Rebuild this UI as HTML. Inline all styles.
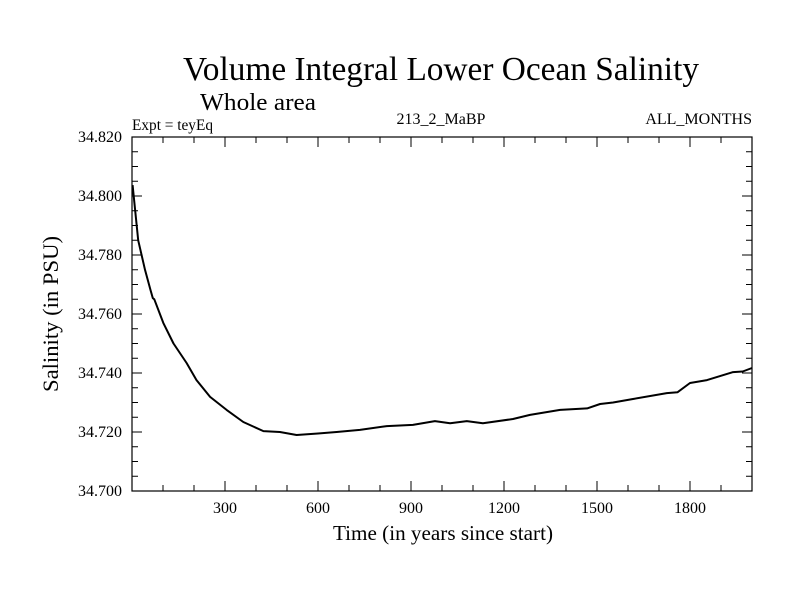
<!DOCTYPE html>
<html><head><meta charset="utf-8"><style>
body{margin:0;background:#fff}
svg{display:block}
text{font-family:"Liberation Serif",serif;fill:#000}
</style></head><body>
<svg id="chart" width="800" height="600">
<text x="441" y="80" font-size="33.5" text-anchor="middle" textLength="516" lengthAdjust="spacingAndGlyphs">Volume Integral Lower Ocean Salinity</text>
<text x="200" y="110" font-size="24" textLength="116" lengthAdjust="spacingAndGlyphs">Whole area</text>
<text x="132" y="130" font-size="16" textLength="81" lengthAdjust="spacingAndGlyphs">Expt = teyEq</text>
<text x="441" y="124" font-size="16" text-anchor="middle">213_2_MaBP</text>
<text x="752" y="124" font-size="16" text-anchor="end">ALL_MONTHS</text>
<text x="443" y="540" font-size="21" text-anchor="middle" textLength="220" lengthAdjust="spacingAndGlyphs">Time (in years since start)</text>
<text transform="translate(58,314) rotate(-90)" font-size="22" text-anchor="middle" textLength="156" lengthAdjust="spacingAndGlyphs">Salinity (in PSU)</text>
<g id="axes"></g>
<path id="line" fill="none" stroke="#000" stroke-width="2" stroke-linejoin="round"/>
<rect x="132" y="137" width="620" height="354" fill="none" stroke="#000" stroke-width="1.2"/>
</svg>
<script>
const years=[2,20,42,60,67,72,101,134,176,208,252,305,359,424,477,531,600,660,735,822,906,977,1026,1080,1132,1229,1284,1381,1468,1510,1552,1616,1725,1760,1800,1855,1939,1970,2000];
const salinity=[34.8037,34.785,34.775,34.768,34.7654,34.7650,34.757,34.750,34.7434,34.7376,34.7319,34.7275,34.7234,34.7203,34.7200,34.7190,34.7195,34.7200,34.7207,34.7220,34.7224,34.7237,34.7230,34.7237,34.7230,34.7244,34.7258,34.7275,34.7280,34.7295,34.7300,34.7312,34.7332,34.7335,34.7366,34.7376,34.7403,34.7405,34.7417];
const xTicks=[300,600,900,1200,1500,1800];
const yTicks=[34.700,34.720,34.740,34.760,34.780,34.800,34.820];
const X0=132,X1=752,Y0=491,Y1=137,xmin=0,xmax=2000,ymin=34.70,ymax=34.82;
const sx=v=>X0+(v-xmin)/(xmax-xmin)*(X1-X0);
const sy=v=>Y0-(v-ymin)/(ymax-ymin)*(Y0-Y1);
const NS="http://www.w3.org/2000/svg";
const g=document.getElementById('axes');
function ln(x1,y1,x2,y2,name){const l=document.createElementNS(NS,'line');
l.setAttribute('x1',x1);l.setAttribute('y1',y1);l.setAttribute('x2',x2);l.setAttribute('y2',y2);
l.setAttribute('stroke','#000');l.setAttribute('stroke-width','1');


g.appendChild(l);}
function tx(x,y,s,anchor,name){const t=document.createElementNS(NS,'text');
t.setAttribute('x',x);t.setAttribute('y',y);t.setAttribute('font-size','16');t.setAttribute('text-anchor',anchor);t.textContent=s;


g.appendChild(t);}
for(let v=100;v<2000;v+=100){const big=v%300===0;const x=sx(v);
ln(x,Y0,x,Y0-(big?10:6),'x-tick');ln(x,Y1,x,Y1+(big?10:6),'x-tick-top');}
xTicks.forEach(v=>tx(sx(v),513,String(v),'middle','x-tick-label'));
for(let i=0;i<=24;i++){const v=ymin+i*0.005;const big=i%4===0;const y=sy(v);
ln(X0,y,X0+(big?10:6),y,'y-tick');ln(X1,y,X1-(big?10:6),y,'y-tick-right');}
yTicks.forEach(v=>tx(X0-10,sy(v)+5,v.toFixed(3),'end','y-tick-label'));
document.getElementById('line').setAttribute('d',years.map((y,i)=>(i?'L':'M')+sx(y).toFixed(1)+','+sy(salinity[i]).toFixed(1)).join(''));
</script>
</body></html>
